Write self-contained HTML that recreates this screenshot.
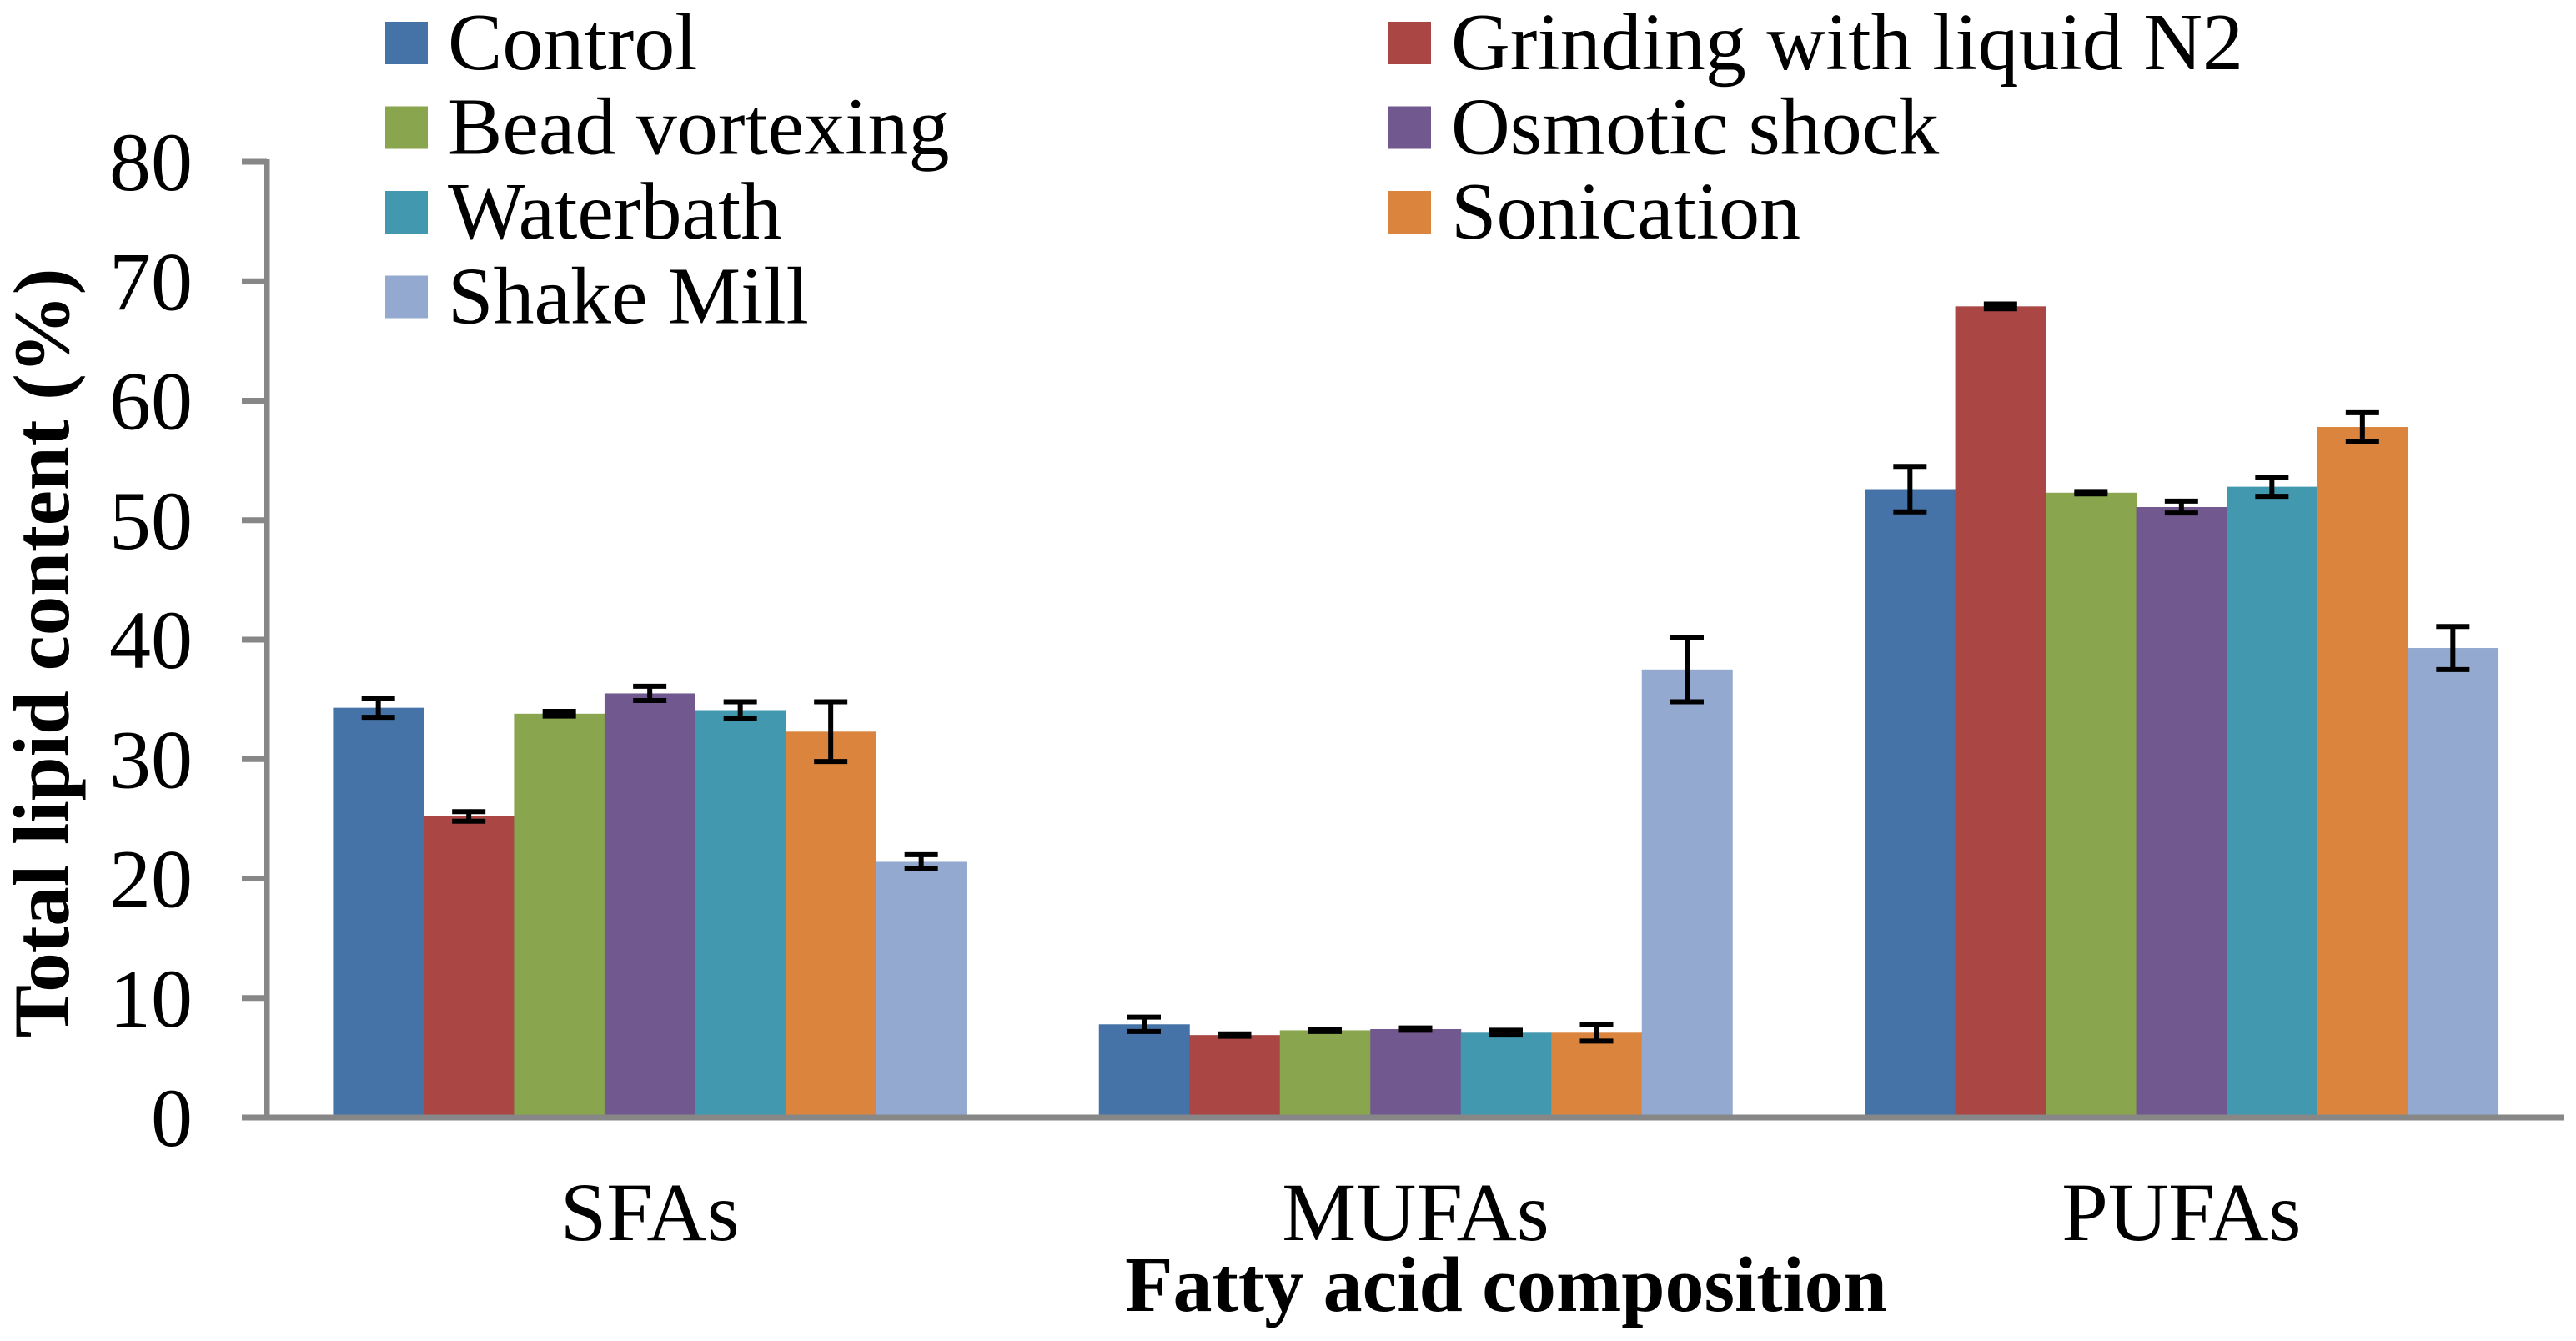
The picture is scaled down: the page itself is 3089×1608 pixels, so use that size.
<!DOCTYPE html>
<html><head><meta charset="utf-8"><style>
html,body{margin:0;padding:0;background:#fff;}
svg, svg text{font-family:"Liberation Serif","Noto Serif CJK SC","DejaVu Serif",serif !important;}
</style></head><body>
<svg id="chart" width="3089" height="1603" viewBox="0 0 3089 1603">
<g id="bars"></g>
<g id="errs"></g>
<g id="axes"></g>
<g id="legend"></g>
<text x="1806" y="1572" font-size="94" font-weight="bold" text-anchor="middle">Fatty acid composition</text>
<text transform="translate(82,783) rotate(-90)" font-size="95" font-weight="bold" text-anchor="middle">Total lipid content (%)</text>
</svg>
<script>
const categories = ["SFAs","MUFAs","PUFAs"];
const seriesNames = ["Control","Grinding with liquid N2","Bead vortexing","Osmotic shock","Waterbath","Sonication","Shake Mill"];
const seriesColors = ["#4572a7","#aa4643","#89a54e","#71588f","#4198af","#db843d","#93a9cf"];
const control = [34.3, 7.8, 52.6];
const grinding = [25.2, 6.9, 67.9];
const bead = [33.8, 7.3, 52.3];
const osmotic = [35.5, 7.4, 51.1];
const waterbath = [34.1, 7.1, 52.8];
const sonication = [32.3, 7.1, 57.8];
const shakeMill = [21.4, 37.5, 39.3];
const controlErr = [0.8, 0.6, 1.9];
const grindingErr = [0.4, 0.1, 0.2];
const beadErr = [0.2, 0.1, 0.1];
const osmoticErr = [0.6, 0.1, 0.5];
const waterbathErr = [0.7, 0.2, 0.8];
const sonicationErr = [2.5, 0.7, 1.2];
const shakeMillErr = [0.6, 2.7, 1.8];
const yTicks = [0,10,20,30,40,50,60,70,80];

const series = [control,grinding,bead,osmotic,waterbath,sonication,shakeMill];
const errs = [controlErr,grindingErr,beadErr,osmoticErr,waterbathErr,sonicationErr,shakeMillErr];
const NS = "http://www.w3.org/2000/svg";
const X0 = 320, X1 = 3075, Y0 = 1340, Y80 = 194;
const catW = (X1 - X0) / categories.length;
const barW = 108.5;
function y(v){ return Y0 - (v / 80) * (Y0 - Y80); }
function xBar(c, s){ return X0 + c * catW + (catW - barW * series.length) / 2 + s * barW; }
function mk(tag, attrs, parent){ const e = document.createElementNS(NS, tag); for (const k in attrs) e.setAttribute(k, attrs[k]); parent.appendChild(e); return e; }

const gb = document.getElementById('bars'), ge = document.getElementById('errs'), ga = document.getElementById('axes'), gl = document.getElementById('legend');
series.forEach((vals, s) => {
  vals.forEach((v, c) => {
    const r = mk('rect', {x: xBar(c, s), y: y(v), width: barW + 0.5, height: Y0 - y(v), fill: seriesColors[s]}, gb);
    
    
    const cx = xBar(c, s) + barW / 2, e = errs[s][c];
    const g = mk('g', {stroke: '#000', 'stroke-width': 6}, ge);
    
    
    mk('line', {x1: cx, x2: cx, y1: y(v + e), y2: y(v - e)}, g);
    mk('line', {x1: cx - 20, x2: cx + 20, y1: y(v + e), y2: y(v + e)}, g);
    mk('line', {x1: cx - 20, x2: cx + 20, y1: y(v - e), y2: y(v - e)}, g);
  });
});
const ya = mk('line', {x1: X0, x2: X0, y1: Y80 - 3, y2: Y0 + 3, stroke: '#878787', 'stroke-width': 7}, ga);


const xa = mk('line', {x1: 290, x2: X1, y1: Y0, y2: Y0, stroke: '#878787', 'stroke-width': 7}, ga);


yTicks.forEach(t => {
  mk('line', {x1: 290, x2: X0, y1: y(t), y2: y(t), stroke: '#878787', 'stroke-width': 7}, ga);
  const tx = mk('text', {x: 231, y: y(t) + 34, 'font-size': 100, 'text-anchor': 'end'}, ga);
  tx.textContent = t;
  
  
});
categories.forEach((c, i) => {
  const tx = mk('text', {x: X0 + (i + 0.5) * catW, y: 1487, 'font-size': 100, 'text-anchor': 'middle'}, ga);
  tx.textContent = c;
  
  
});
seriesNames.forEach((n, i) => {
  const col = i % 2, row = Math.floor(i / 2);
  const lx = col ? 1665 : 462, ly = 51 + row * 101.5;
  const g = mk('g', {}, gl);
  
  
  mk('rect', {x: lx, y: ly - 25, width: 51, height: 51, fill: seriesColors[i]}, g);
  const t = mk('text', {x: lx + 75, y: ly + 32, 'font-size': 98}, g);
  t.textContent = n;
});
</script>
</body></html>
